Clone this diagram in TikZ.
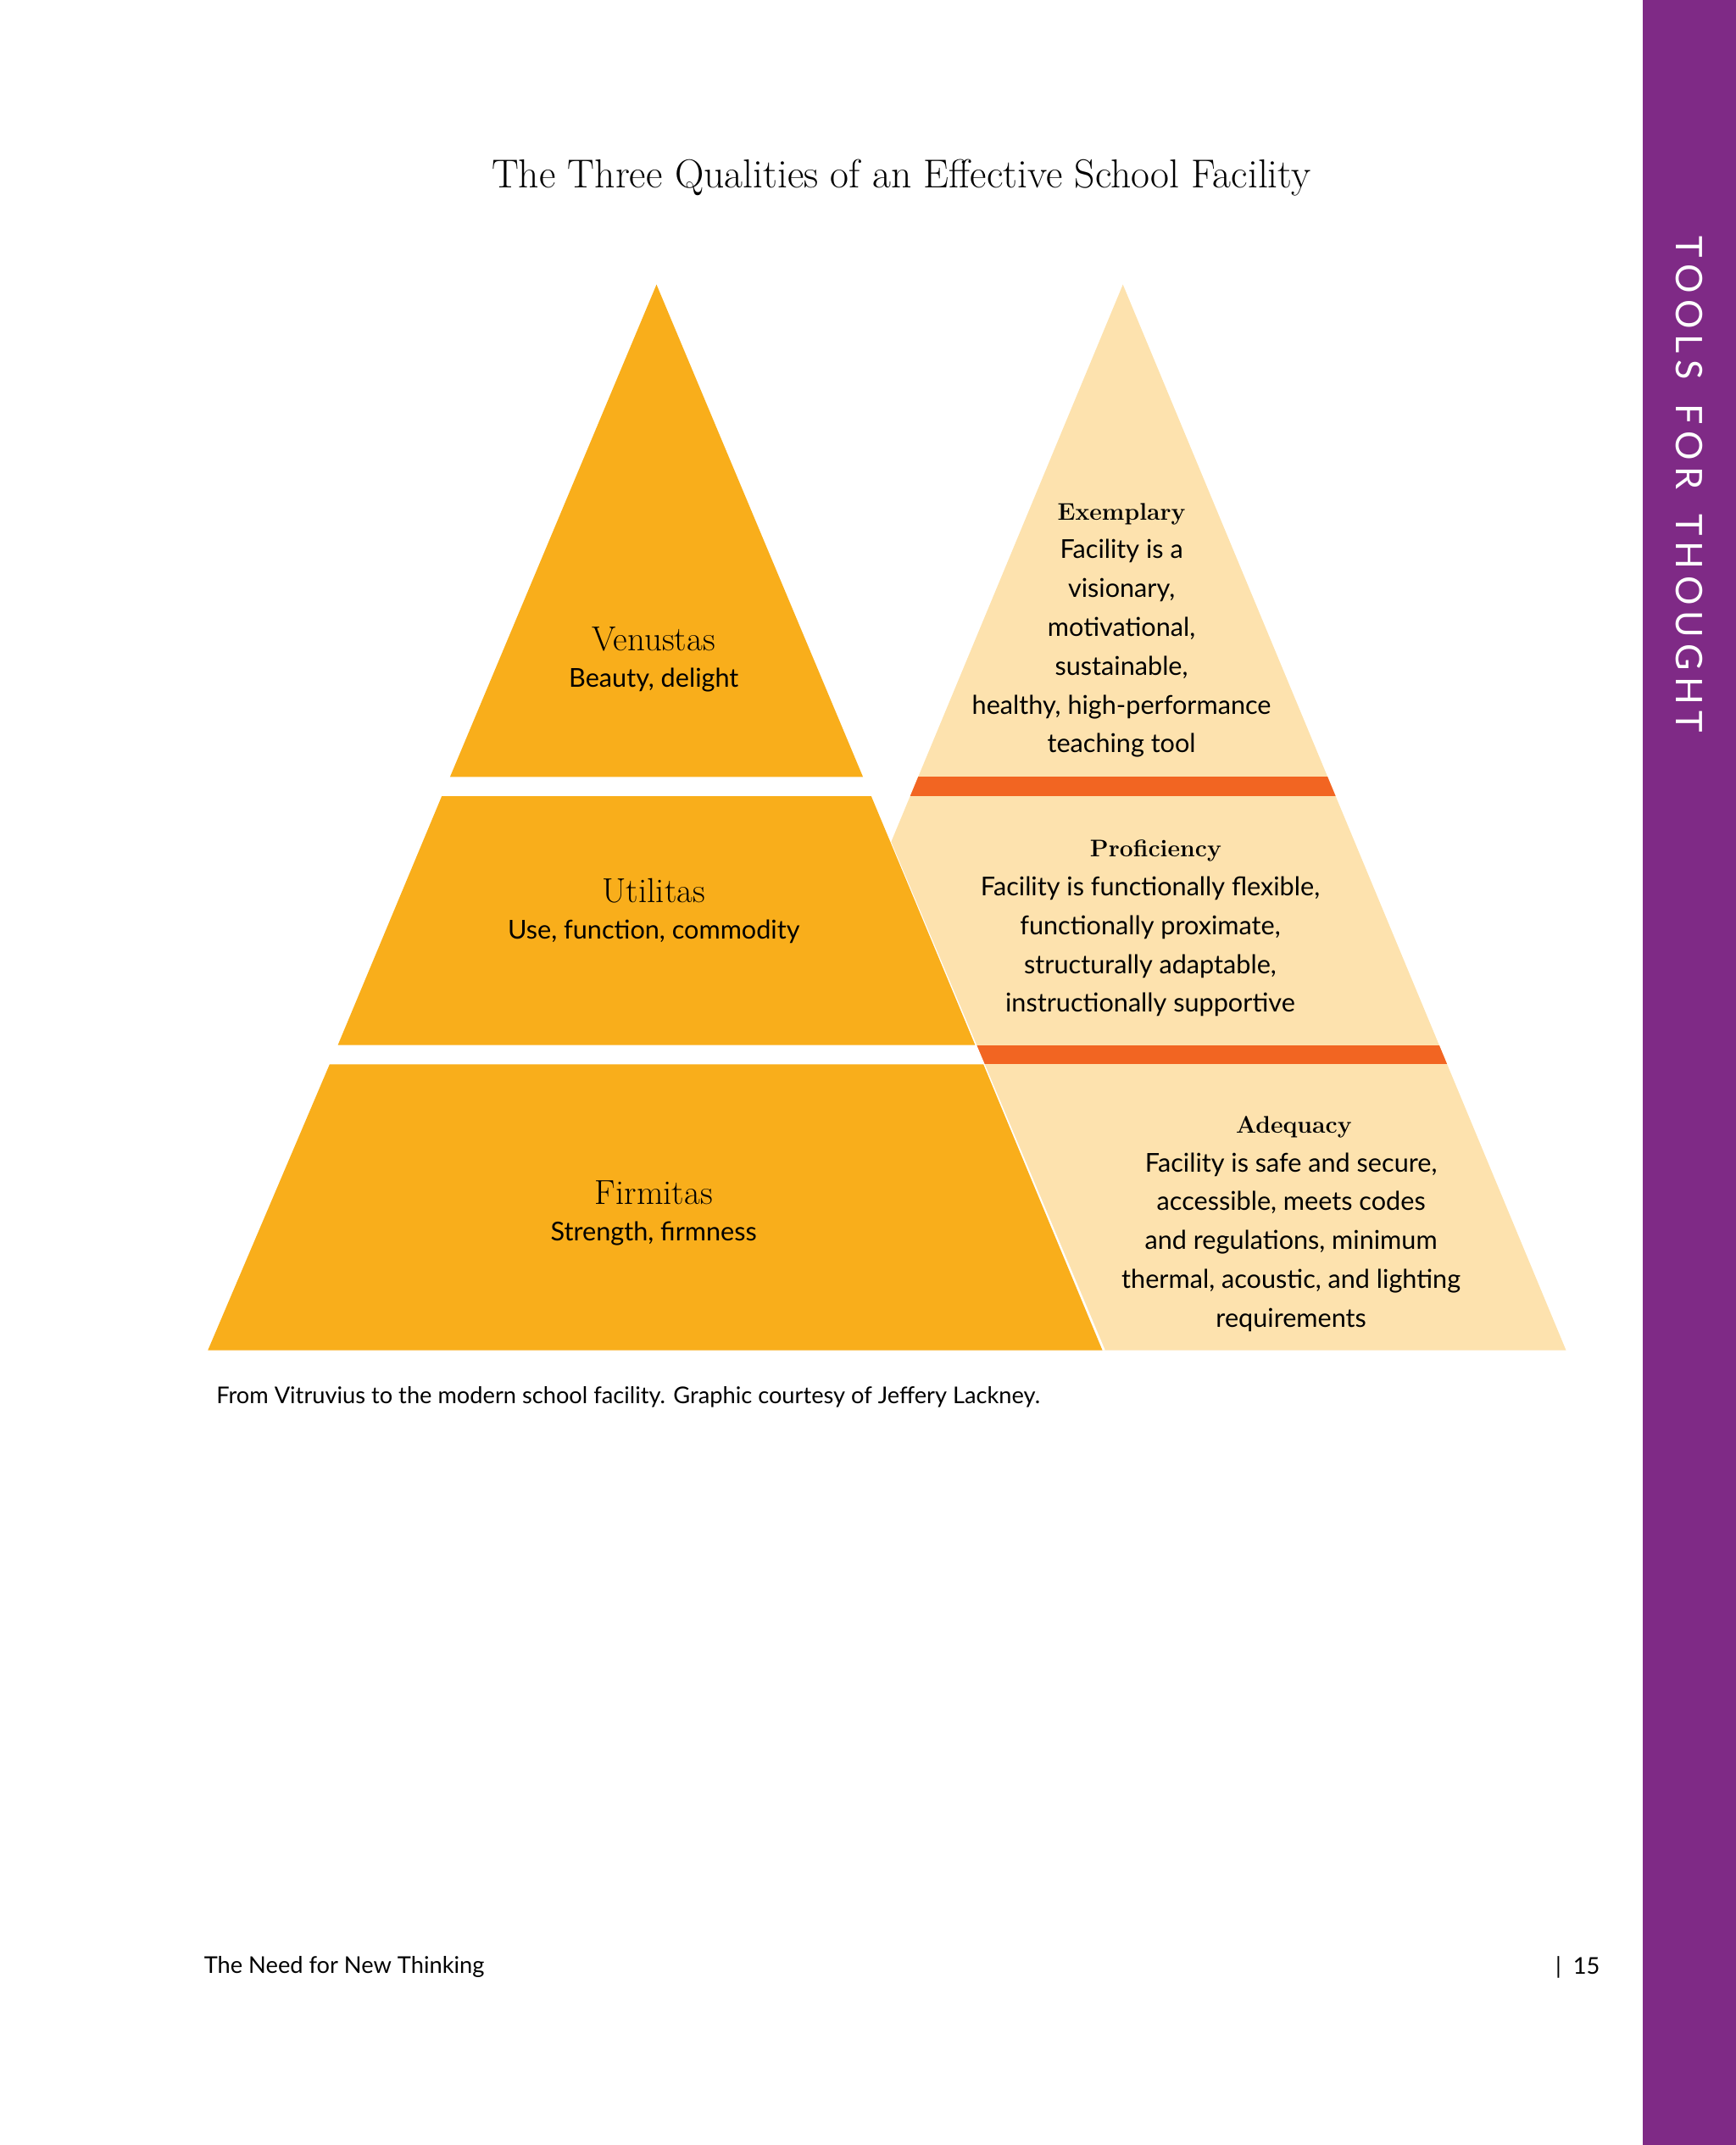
\documentclass[tikz,border=0pt]{standalone}
\usepackage{fontspec}
\setmainfont{Latin Modern Roman}
\newfontfamily\bodyf{Lato}
\newfontfamily\sidef{Lato}
\definecolor{orng}{HTML}{F9AE1B}
\definecolor{lite}{HTML}{FDE2AE}
\definecolor{band}{HTML}{F26522}
\definecolor{purp}{HTML}{7F2A86}
\begin{document}
\begin{tikzpicture}[x=0.25mm,y=-0.25mm,
  body/.style={font=\bodyf\fontsize{13.5}{20.2}\selectfont,align=center,text=black,inner sep=0},
  head/.style={font=\fontsize{18}{22}\selectfont,inner sep=0},
  sclabel/.style={font=\fontsize{12.5}{15}\selectfont\scshape\bfseries,inner sep=0}]
\useasboundingbox (0,0) rectangle (1269,1568);
\fill[purp] (1201,0) rectangle (1269,1568);
\node[rotate=-90,font=\sidef\fontsize{19}{22}\selectfont,text=white] (side) at (1235,354) {T\,O\,O\,L\,S\,\ \ F\,O\,R\,\ \ T\,H\,O\,U\,G\,H\,T};
\node[font=\fontsize{21}{26}\selectfont] (title) at (659,130) {The Three Qualities of an Effective School Facility};
% right pyramid
\fill[lite] (821,208) -- (1145,987) -- (497,987) -- cycle;
\begin{scope}
\clip (821,208) -- (1145,987) -- (497,987) -- cycle;
\fill[band] (500,568) rectangle (1200,582);
\fill[band] (500,764) rectangle (1200,778);
\end{scope}
% left pyramid
\fill[white] (480,208) -- (808,987) -- (152,987) -- cycle;
\fill[orng] (480,208) -- (631,568) -- (329,568) -- cycle;
\fill[orng] (323,582) -- (637,582) -- (713,764) -- (247,764) -- cycle;
\fill[orng] (241,778) -- (719,778) -- (806,987) -- (152,987) -- cycle;
\node[head] (ven) at (478,467) {Venustas};
\node[body] (venb) at (478,497) {Beauty, delight};
\node[head] (uti) at (478,651) {Utilitas};
\node[body] (utib) at (478,681) {Use, function, commodity};
\node[head] (fir) at (478,872) {Firmitas};
\node[body] (firb) at (478,902) {Strength, firmness};
\node[sclabel] (ex) at (820,376) {Exemplary};
\node[body] (exb) at (820,474) {Facility is a\\visionary,\\motivational,\\sustainable,\\healthy, high-performance\\teaching tool};
\node[sclabel] (pr) at (845,622) {Proficiency};
\node[body] (prb) at (841,692) {Facility is functionally flexible,\\functionally proximate,\\structurally adaptable,\\instructionally supportive};
\node[sclabel] (ad) at (946,824) {Adequacy};
\node[body] (adb) at (944,908) {Facility is safe and secure,\\accessible, meets codes\\and regulations, minimum\\thermal, acoustic, and lighting\\requirements};
\node[body,font=\bodyf\fontsize{12}{15}\selectfont,anchor=west] (capt) at (158,1021) {From Vitruvius to the modern school facility. Graphic courtesy of Jeffery Lackney.};
\node[body,font=\bodyf\fontsize{12}{15}\selectfont,anchor=west] (foot) at (149,1438) {The Need for New Thinking};
\node[body,font=\bodyf\fontsize{12}{15}\selectfont,anchor=east] (pg) at (1170,1438) {|\ \ 15};
\end{tikzpicture}
\end{document}
